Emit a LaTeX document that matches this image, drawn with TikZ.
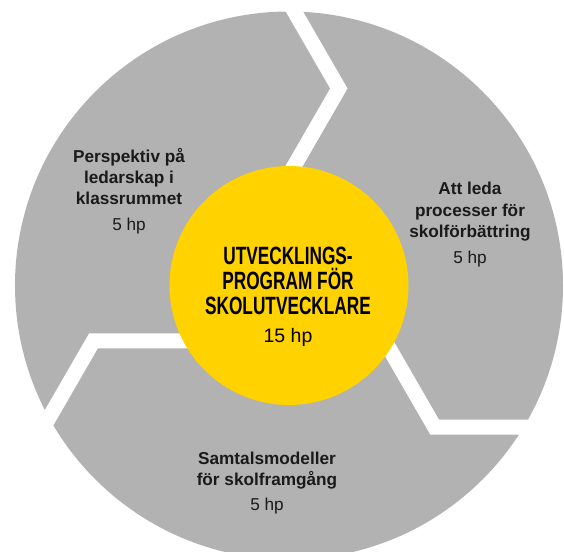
\documentclass[tikz,border=0pt]{standalone}
\usepackage{fontspec}
\setmainfont{Liberation Sans}
\newfontfamily\condfont[FakeStretch=0.69]{Liberation Sans}
\usetikzlibrary{calc}
\definecolor{ringgray}{HTML}{B2B2B2}
\definecolor{coreyellow}{HTML}{FFD200}
\definecolor{ink}{HTML}{1A1A1A}
\begin{document}
\begin{tikzpicture}[x=1pt,y=1pt,
  txt/.style={anchor=base, inner sep=0pt, text=ink},
  boldline/.style={txt, font=\fontsize{17.2}{21.5}\selectfont\bfseries},
  hpline/.style={txt, font=\fontsize{17.2}{21.5}\selectfont},
  titleline/.style={txt, text=black, font=\fontsize{25}{25}\condfont\bfseries},
  titlehp/.style={txt, text=black, font=\fontsize{19.5}{22}\selectfont},
  gap/.style={white, line width=15pt, line join=miter}]
\useasboundingbox (-289,-265.5) rectangle (275,285.5);
\fill[ringgray] (0,0) circle[radius=274];
\foreach \k in {0,1,2} {
  \coordinate (tip\k) at ({75.8+120*\k}:203.2pt);
  \coordinate (outer\k) at ($(tip\k)+({120+120*\k}:170pt)$);
  \coordinate (inner\k) at ($(tip\k)+({240+120*\k}:120pt)$);
  \draw[gap] (outer\k) -- (tip\k) -- (inner\k);
}
\node[circle, fill=coreyellow, minimum size=239pt, inner sep=0pt] (core) at (0,0) {};
% centre
\node[titleline] (t1) at (-1,20.5) {UTVECKLINGS-};
\node[titleline] (t2) at (-1,-4.5) {PROGRAM FÖR};
\node[titleline] (t3) at (-1,-29.1) {SKOLUTVECKLARE};
\node[titlehp] (t4) at (-1,-56.5) {15 hp};
% left
\node[boldline] (l1) at (-160,123) {Perspektiv på};
\node[boldline] (l2) at (-160,101.5) {ledarskap i};
\node[boldline] (l3) at (-160,80.5) {klassrummet};
\node[hpline] (l4) at (-160,54.5) {5 hp};
% right
\node[boldline] (r1) at (181,90.5) {Att leda};
\node[boldline] (r2) at (181,68.5) {processer för};
\node[boldline] (r3) at (181,47.5) {skolförbättring};
\node[hpline] (r4) at (181,21.5) {5 hp};
% bottom
\node[boldline] (b1) at (-22,-178.5) {Samtalsmodeller};
\node[boldline] (b2) at (-22,-199.5) {för skolframgång};
\node[hpline] (b3) at (-22,-225) {5 hp};
\end{tikzpicture}
\end{document}
